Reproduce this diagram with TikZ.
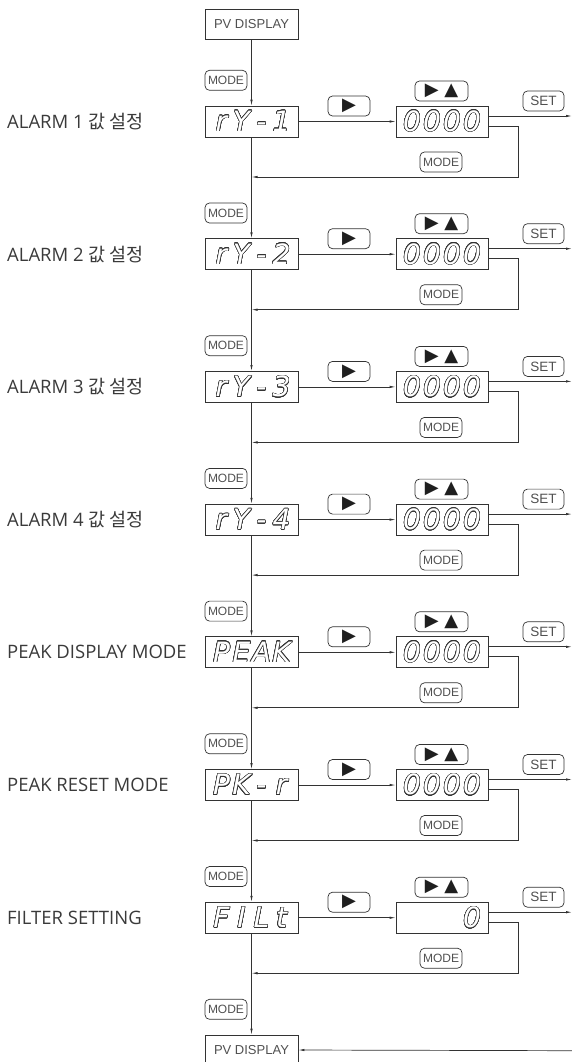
\documentclass[tikz,border=0pt]{standalone}
\usepackage{fontspec}
\setmainfont{Liberation Sans}
\newfontfamily\labfont{Open Sans}
\newfontfamily\krfont{Noto Sans CJK KR}
\newfontfamily\segfont{DejaVu Sans}
\newfontfamily\symfont{DejaVu Sans}
\usepackage[copies]{contour}
\contourlength{0.55pt}
\contournumber{24}
\usetikzlibrary{positioning,arrows.meta}
\definecolor{ink}{HTML}{333333}
\definecolor{txt}{HTML}{505050}
\definecolor{lbl}{HTML}{3A3A3A}
\newcommand{\kr}[1]{{\krfont #1}}
% each display character gets a slot of its own
\ExplSyntaxOn
\NewDocumentCommand{\segslots}{m}{
  \tl_set:Nx \l_tmpa_tl {#1}
  \tl_map_inline:Nn \l_tmpa_tl {\makebox[20pt][c]{##1}}
}
\ExplSyntaxOff
\newcommand{\seg}[1]{\contour{ink}{\color{white}\fontsize{28}{28}\segfont\itshape\segslots{#1}}}
\newcommand{\tri}[1]{{\color{black!88}\fontsize{18}{18}\symfont #1}}

\begin{document}
\begin{tikzpicture}[x=1pt, y=-1pt,
      pv/.style={draw=ink, line width=0.7pt, minimum width=93pt, minimum height=30pt, inner sep=0pt, text=txt, font=\fontsize{13}{13}\selectfont},
      disp/.style={draw=ink, line width=0.7pt, minimum width=93pt, minimum height=31pt, inner sep=0pt},
      val/.style={draw=ink, line width=0.7pt, text width=80pt, align=right, inner xsep=6pt, minimum height=31pt, inner ysep=0pt},
      btn/.style={draw=ink, line width=0.7pt, rounded corners=4.5pt, minimum height=20pt, inner sep=0pt, text=txt, font=\fontsize{12}{12}\selectfont},
      lab/.style={anchor=west, inner sep=0pt, text=lbl, font=\fontsize{18.5}{20}\labfont},
      arr/.style={-{Latex[length=6pt,width=2.4pt]}, draw=ink, line width=0.7pt}]
    \useasboundingbox (0,0) rectangle (572,1062);
    \node[pv] (pvtop) at (251.5,24) {PV DISPLAY};
    % one row per setting
    \foreach \i/\lab/\disp/\val in {0/{ALARM 1 \kr{값 설정}}/{rY-1}/{0000},
        1/{ALARM 2 \kr{값 설정}}/{rY-2}/{0000},
        2/{ALARM 3 \kr{값 설정}}/{rY-3}/{0000},
        3/{ALARM 4 \kr{값 설정}}/{rY-4}/{0000},
        4/{PEAK DISPLAY MODE}/{PEAK}/{0000},
        5/{PEAK RESET MODE}/{PK-r}/{0000},
        6/{FILTER SETTING}/{FILt}/{0}} {
      \pgfmathsetmacro{\y}{121.5+132.7*\i}
      \node[lab] (lab\i) at (7,\y) {\lab};
      \node[disp] (disp\i) at (251.5,\y) {\seg{\disp}};
      \node[val] (val\i) at (442,\y) {\seg{\val}};
      \node[btn, minimum width=42pt, above right=15pt and 0pt of disp\i.north west] (mode\i) {MODE};
      \node[btn, minimum width=42pt] (go\i) at (349,\y-15.5) {\tri{▶}};
      \node[btn, minimum width=53pt] (edit\i) at (441.5,\y-30.5) {\tri{▶ ▲}};
      \node[btn, minimum width=41pt, font=\fontsize{13.5}{13.5}\selectfont] (set\i) at (543.5,\y-20.5) {SET};
      \node[btn, minimum width=42pt] (back\i) at (441,\y+40.5) {MODE};
      \coordinate (out\i) at (572,\y-5.5);
      \coordinate (join\i) at (251.5,\y+55.5);
      \draw[arr] (disp\i) -- (val\i);
      \draw[arr] ([yshift=5.5pt]val\i.east) -- (out\i);
      \draw[arr] ([yshift=-4.5pt]val\i.east) -- ++(30,0) |- (join\i);
    }
    \node[pv] (pvbot) at (251.5,1050) {PV DISPLAY};
    \node[btn, minimum width=42pt, above right=15pt and 0pt of pvbot.north west] (modeend) {MODE};
    \coordinate (pvin) at (572,1050.7);
    % main column
    \draw[arr] (pvtop) -- (disp0);
    \foreach \i [evaluate=\i as \j using int(\i-1)] in {1,...,6}
      \draw[arr] (disp\j) -- (disp\i);
    \draw[arr] (disp6) -- (pvbot);
    \draw[arr] (pvin) -- (pvbot.east);
  \end{tikzpicture}
\end{document}
